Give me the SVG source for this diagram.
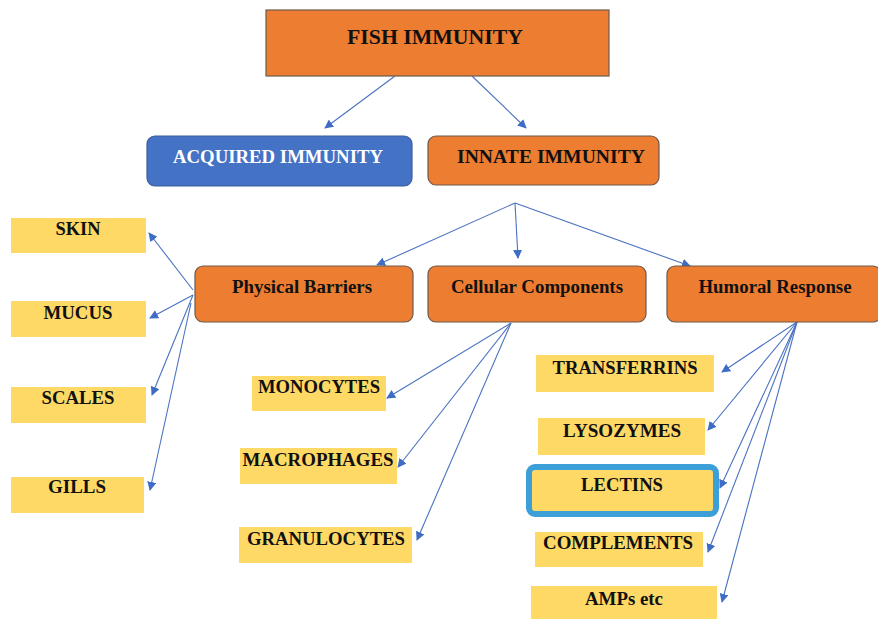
<svg xmlns="http://www.w3.org/2000/svg" width="878" height="619" viewBox="0 0 878 619">
<style>
.orange{fill:#ED7D31;stroke:#6d5a4e;stroke-width:1.2}
.blue{fill:#4472C4;stroke:#3a5f9e;stroke-width:1.2}
.yellow{fill:#FFD966}
.t{font-family:"Liberation Serif","Times New Roman",serif;font-weight:bold;text-anchor:middle;fill:#111}
.w{fill:#fff}
.c line{stroke:#4a72c0;stroke-width:1.1;marker-end:url(#ah)}
</style>
<defs>
<marker id="ah" viewBox="0 0 10 10" refX="9" refY="5" markerWidth="9" markerHeight="9" markerUnits="userSpaceOnUse" orient="auto">
<path d="M0,0 L10,5 L0,10 Z" fill="#3f6cc4"/>
</marker>
</defs>
<rect width="878" height="619" fill="#fff"/>
<g class="c">
<line x1="395" y1="76" x2="325" y2="128"/>
<line x1="472" y1="76" x2="526" y2="128"/>
<line x1="515" y1="203" x2="377" y2="265"/>
<line x1="515" y1="203" x2="518" y2="258"/>
<line x1="515" y1="203" x2="690" y2="266"/>
<line x1="193" y1="290" x2="149" y2="233"/>
<line x1="193" y1="295" x2="150" y2="318"/>
<line x1="193" y1="295" x2="152" y2="395"/>
<line x1="191" y1="303" x2="150" y2="490"/>
<line x1="511" y1="323" x2="387" y2="398"/>
<line x1="511" y1="323" x2="398" y2="467"/>
<line x1="511" y1="323" x2="417" y2="540"/>
<line x1="797" y1="322" x2="722" y2="372"/>
<line x1="797" y1="322" x2="708" y2="430"/>
<line x1="797" y1="322" x2="720" y2="488"/>
<line x1="797" y1="322" x2="708" y2="552"/>
<line x1="797" y1="322" x2="722" y2="602"/>
</g>
<g id="fish-immunity">
<rect class="orange" x="266" y="10" width="343" height="66"/>
<text class="t" x="435" y="44" font-size="21" textLength="176" lengthAdjust="spacingAndGlyphs">FISH IMMUNITY</text>
</g>
<g id="acquired-immunity">
<rect class="blue" x="147" y="136" width="265" height="50" rx="8"/>
<text class="t w" x="278" y="163" font-size="19" textLength="210" lengthAdjust="spacingAndGlyphs">ACQUIRED IMMUNITY</text>
</g>
<g id="innate-immunity">
<rect class="orange" x="428" y="136" width="231" height="49" rx="8"/>
<text class="t" x="551" y="163" font-size="19" textLength="188" lengthAdjust="spacingAndGlyphs">INNATE IMMUNITY</text>
</g>
<g id="physical-barriers">
<rect class="orange" x="195" y="266" width="218" height="56" rx="8"/>
<text class="t" x="302" y="293" font-size="18" textLength="140" lengthAdjust="spacingAndGlyphs">Physical Barriers</text>
</g>
<g id="cellular-components">
<rect class="orange" x="428" y="266" width="218" height="56" rx="8"/>
<text class="t" x="537" y="293" font-size="18" textLength="172" lengthAdjust="spacingAndGlyphs">Cellular Components</text>
</g>
<g id="humoral-response">
<rect class="orange" x="667" y="266" width="214" height="56" rx="8"/>
<text class="t" x="775" y="293" font-size="18" textLength="153" lengthAdjust="spacingAndGlyphs">Humoral Response</text>
</g>
<g id="skin">
<rect class="yellow" x="11" y="218" width="135" height="35"/>
<text class="t" x="78" y="235" font-size="18" textLength="45" lengthAdjust="spacingAndGlyphs">SKIN</text>
</g>
<g id="mucus">
<rect class="yellow" x="11" y="301" width="135" height="36"/>
<text class="t" x="78" y="319" font-size="18" textLength="69" lengthAdjust="spacingAndGlyphs">MUCUS</text>
</g>
<g id="scales">
<rect class="yellow" x="11" y="387" width="135" height="36"/>
<text class="t" x="78" y="404" font-size="18" textLength="73" lengthAdjust="spacingAndGlyphs">SCALES</text>
</g>
<g id="gills">
<rect class="yellow" x="11" y="477" width="133" height="36"/>
<text class="t" x="77" y="493" font-size="18" textLength="58" lengthAdjust="spacingAndGlyphs">GILLS</text>
</g>
<g id="monocytes">
<rect class="yellow" x="252" y="376" width="134" height="35"/>
<text class="t" x="319" y="393" font-size="18" textLength="122" lengthAdjust="spacingAndGlyphs">MONOCYTES</text>
</g>
<g id="macrophages">
<rect class="yellow" x="240" y="448" width="157" height="36"/>
<text class="t" x="318" y="466" font-size="18" textLength="151" lengthAdjust="spacingAndGlyphs">MACROPHAGES</text>
</g>
<g id="granulocytes">
<rect class="yellow" x="239" y="527" width="173" height="36"/>
<text class="t" x="326" y="545" font-size="18" textLength="158" lengthAdjust="spacingAndGlyphs">GRANULOCYTES</text>
</g>
<g id="transferrins">
<rect class="yellow" x="536" y="355" width="178" height="37"/>
<text class="t" x="625" y="374" font-size="18" textLength="145" lengthAdjust="spacingAndGlyphs">TRANSFERRINS</text>
</g>
<g id="lysozymes">
<rect class="yellow" x="538" y="418" width="167" height="37"/>
<text class="t" x="622" y="437" font-size="18" textLength="118" lengthAdjust="spacingAndGlyphs">LYSOZYMES</text>
</g>
<g id="lectins">
<rect x="529" y="467" width="187" height="47" rx="6" fill="#FFD966" stroke="#3d9fd8" stroke-width="6"/>
<text class="t" x="622" y="491" font-size="18" textLength="82" lengthAdjust="spacingAndGlyphs">LECTINS</text>
</g>
<g id="complements">
<rect class="yellow" x="535" y="532" width="168" height="35"/>
<text class="t" x="618" y="549" font-size="18" textLength="150" lengthAdjust="spacingAndGlyphs">COMPLEMENTS</text>
</g>
<g id="amps">
<rect class="yellow" x="531" y="586" width="186" height="33"/>
<text class="t" x="624" y="605" font-size="18" textLength="78" lengthAdjust="spacingAndGlyphs">AMPs etc</text>
</g>
</svg>
